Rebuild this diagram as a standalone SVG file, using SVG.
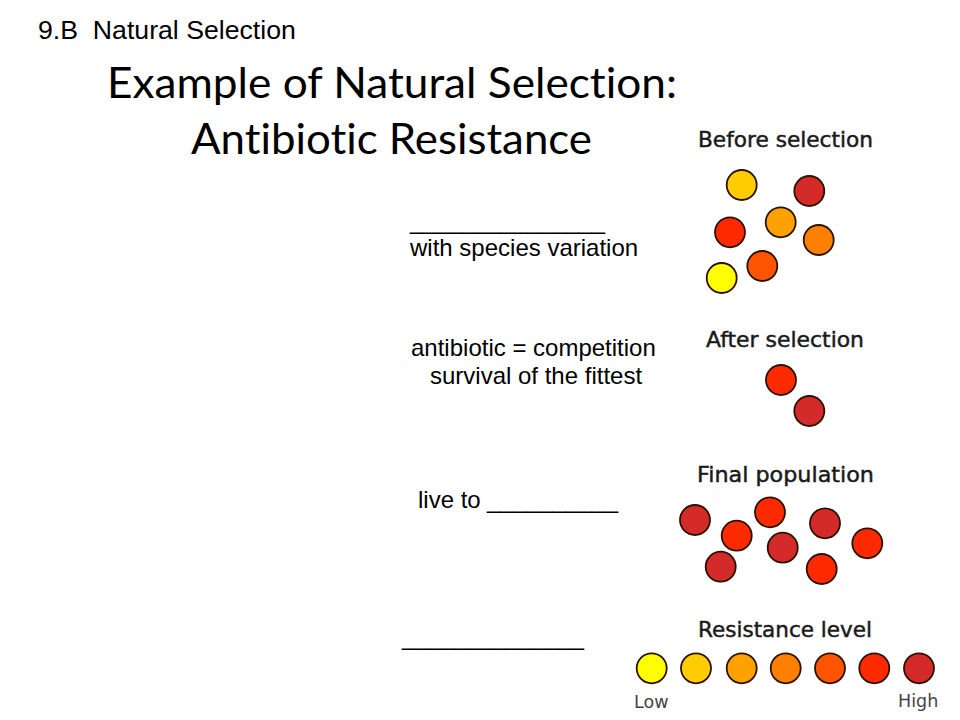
<svg xmlns="http://www.w3.org/2000/svg" width="960" height="720" viewBox="0 0 960 720">
<style>
.t{font-family:"Liberation Sans",Arial,sans-serif;font-size:24px;fill:#000}
.h{font-family:Lato,"Open Sans",sans-serif;font-size:42px;fill:#000;font-variant-ligatures:none}
.lab{font-family:"DejaVu Sans",Verdana,sans-serif;font-size:20.5px;fill:#1a1a1a;stroke:#1a1a1a;stroke-width:0.45}
.sm{font-family:"DejaVu Sans",Verdana,sans-serif;font-size:17.5px;fill:#444}
circle{stroke:#2a1200;stroke-width:1.8}
.c1{fill:#FFFF00}.c2{fill:#FFCC00}.c3{fill:#FFA200}.c4{fill:#FF8000}.c5{fill:#FF5500}.c6{fill:#FF2A00}.c7{fill:#D42A2A}
</style>
<rect width="960" height="720" fill="#fff"/>
<g id="header">
<text class="t" x="38" y="39" style="font-size:26.67px" xml:space="preserve">9.B  Natural Selection</text>
<text class="h" x="107" y="98" textLength="570" lengthAdjust="spacingAndGlyphs">Example of Natural Selection:</text>
<text class="h" x="191" y="154" textLength="401" lengthAdjust="spacingAndGlyphs">Antibiotic Resistance</text>
</g>
<g id="notes">
<text class="t" x="410" y="229" textLength="195" lengthAdjust="spacingAndGlyphs">_______________</text>
<text class="t" x="410" y="256">with species variation</text>
<text class="t" x="411" y="356">antibiotic = competition</text>
<text class="t" x="430" y="384">survival of the fittest</text>
<text class="t" x="418" y="508">live to <tspan x="487" textLength="131" lengthAdjust="spacingAndGlyphs">__________</tspan></text>
<text class="t" x="402" y="645" textLength="182" lengthAdjust="spacingAndGlyphs">______________</text>
</g>
<g id="before">
<text class="lab" x="698" y="147" textLength="175" lengthAdjust="spacingAndGlyphs">Before selection</text>
<circle class="c2" cx="741.7" cy="185" r="15"/>
<circle class="c7" cx="809.3" cy="191" r="15"/>
<circle class="c6" cx="730" cy="232.3" r="15"/>
<circle class="c3" cx="780.7" cy="222.3" r="15"/>
<circle class="c4" cx="818.7" cy="240" r="15"/>
<circle class="c5" cx="762.3" cy="266" r="15"/>
<circle class="c1" cx="721.7" cy="278" r="15"/>
</g>
<g id="after">
<text class="lab" x="706" y="347" textLength="158" lengthAdjust="spacingAndGlyphs">After selection</text>
<circle class="c6" cx="781" cy="380" r="15"/>
<circle class="c7" cx="809.3" cy="411" r="15"/>
</g>
<g id="final">
<text class="lab" x="697" y="482" textLength="177" lengthAdjust="spacingAndGlyphs">Final population</text>
<circle class="c7" cx="695" cy="520" r="15"/>
<circle class="c6" cx="736.7" cy="535.7" r="15"/>
<circle class="c6" cx="770" cy="512.3" r="15"/>
<circle class="c7" cx="782.7" cy="547.7" r="15"/>
<circle class="c7" cx="825" cy="523.3" r="15"/>
<circle class="c6" cx="867.3" cy="543.3" r="15"/>
<circle class="c7" cx="720.7" cy="566.7" r="15"/>
<circle class="c6" cx="821.7" cy="569" r="15"/>
</g>
<g id="resistance">
<text class="lab" x="698" y="637" textLength="174" lengthAdjust="spacingAndGlyphs">Resistance level</text>
<circle class="c1" cx="651.7" cy="668.3" r="15"/>
<circle class="c2" cx="696" cy="668.3" r="15"/>
<circle class="c3" cx="741.7" cy="668.3" r="15"/>
<circle class="c4" cx="785.7" cy="668.3" r="15"/>
<circle class="c5" cx="830" cy="668.3" r="15"/>
<circle class="c6" cx="874.3" cy="668.3" r="15"/>
<circle class="c7" cx="919" cy="668.3" r="15"/>
<text class="sm" x="634" y="708">Low</text>
<text class="sm" x="898" y="707">High</text>
</g>
<g id="connectors"/>
</svg>
